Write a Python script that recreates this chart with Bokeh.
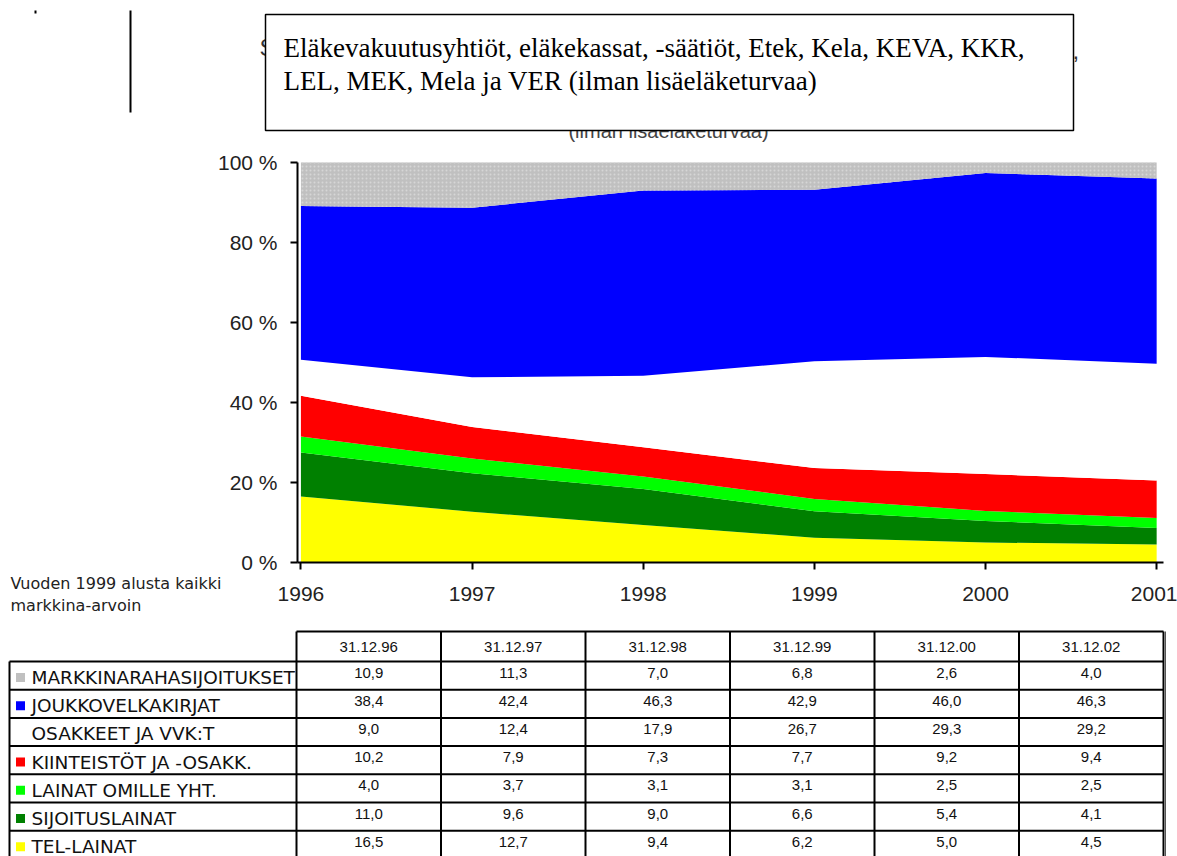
import numpy as np
from bokeh.plotting import figure
from bokeh.models import Range1d, FixedTicker, LinearAxis
from bokeh.core.properties import value
from bokeh.embed import file_html
from bokeh.resources import INLINE

# ---------------- data ----------------
dates = ["31.12.96", "31.12.97", "31.12.98", "31.12.99", "31.12.00", "31.12.02"]
years = [1996, 1997, 1998, 1999, 2000, 2001]
tel_lainat = [16.5, 12.7, 9.4, 6.2, 5.0, 4.5]
sijoituslainat = [11.0, 9.6, 9.0, 6.6, 5.4, 4.1]
lainat_omille = [4.0, 3.7, 3.1, 3.1, 2.5, 2.5]
kiinteistot = [10.2, 7.9, 7.3, 7.7, 9.2, 9.4]
osakkeet = [9.0, 12.4, 17.9, 26.7, 29.3, 29.2]
joukkovelka = [38.4, 42.4, 46.3, 42.9, 46.0, 46.3]
markkinaraha = [10.9, 11.3, 7.0, 6.8, 2.6, 4.0]

# stacking order bottom -> top
stack_series = [tel_lainat, sijoituslainat, lainat_omille, kiinteistot, osakkeet, joukkovelka, markkinaraha]
stack_colors = ["#ffff00", "#008000", "#00ff00", "#ff0000", "#ffffff", "#0000ff", "#c0c0c0"]

# table rows (top -> bottom)
row_labels = ["MARKKINARAHASIJOITUKSET", "JOUKKOVELKAKIRJAT", "OSAKKEET JA VVK:T",
              "KIINTEISTÖT JA -OSAKK.", "LAINAT OMILLE YHT.", "SIJOITUSLAINAT", "TEL-LAINAT"]
row_values = [markkinaraha, joukkovelka, osakkeet, kiinteistot, lainat_omille, sijoituslainat, tel_lainat]
row_colors = ["#c0c0c0", "#0000ff", "#ffffff", "#ff0000", "#00ff00", "#008000", "#ffff00"]

y_ticks = [0, 20, 40, 60, 80, 100]
y_tick_labels = ["0 %", "20 %", "40 %", "60 %", "80 %", "100 %"]

title_lines = ["Eläkevakuutusyhtiöt, eläkekassat, -säätiöt, Etek, Kela, KEVA, KKR,",
               "LEL, MEK, Mela ja VER (ilman lisäeläketurvaa)"]
note_lines = ["Vuoden 1999 alusta kaikki", "markkina-arvoin"]
hidden_sub = "(ilman lisäeläketurvaa)"

SANS = "Liberation Sans"
SERIF = "Liberation Serif"
DEJA = "DejaVu Sans"

# ---------------- canvas geometry (page pixels) ----------------
W, H = 1177, 856
PX_L, PX_R, PX_T, PX_B = 0, W, 0, H
PLOT_L, PLOT_R = 297.0, 1163.0     # x-axis extent
PLOT_T, PLOT_B = 162.0, 562.0      # 100 % and 0 % levels
X_LO, X_HI = 1995.98, 2001.04
Y_LO, Y_HI = 0.0, 100.0

sx = (PLOT_R - PLOT_L) / (X_HI - X_LO)
sy = (PLOT_B - PLOT_T) / (Y_HI - Y_LO)
x_start = X_LO - (PLOT_L - PX_L) / sx
x_end = X_HI + (PX_R - PLOT_R) / sx
y_start = Y_LO - (PX_B - PLOT_B) / sy
y_end = Y_HI + (PLOT_T - PX_T) / sy

p = figure(width=W, height=H, x_range=Range1d(x_start, x_end), y_range=Range1d(y_start, y_end),
           x_axis_type=None, y_axis_type=None, toolbar_location=None,
           output_backend="svg", min_border=0)
p.outline_line_color = None
p.background_fill_color = "white"
p.border_fill_color = "white"
p.extra_x_ranges = {"px": Range1d(PX_L, PX_R)}
p.extra_y_ranges = {"px": Range1d(PX_B, PX_T)}
PX = dict(x_range_name="px", y_range_name="px")

# ---------------- header ----------------
p.quad(left=[34], right=[36], top=[10], bottom=[13], fill_color="black", line_color=None, **PX)
p.segment(x0=[130], y0=[10], x1=[130], y1=[112], line_color="black", line_width=2, **PX)
# partially hidden original title behind the box
p.text(x=[259], y=[47], text=["S"], text_font=value(SANS), text_font_size="24px",
       text_baseline="middle", text_color="#333333", **PX)
p.text(x=[1072], y=[50], text=[","], text_font=value(SANS), text_font_size="24px",
       text_baseline="middle", text_color="#333333", **PX)
p.text(x=[668], y=[119], text=[hidden_sub], text_font=value(SANS), text_font_size="20px",
       text_align="center", text_baseline="top", text_color="#444444", **PX)
# box
p.quad(left=[265], right=[1073], top=[14], bottom=[130], fill_color="white",
       line_color="black", line_width=1.5, **PX)
p.text(x=[283, 283], y=[47, 80], text=title_lines, text_font=value(SERIF),
       text_font_size="27px", text_baseline="middle", text_color="black", **PX)

# ---------------- chart ----------------
x = np.array(years, dtype=float)
base = np.zeros(len(years))
for i, (ser, col) in enumerate(zip(stack_series, stack_colors)):
    top = base + np.array(ser)
    if i == len(stack_series) - 1:
        top = np.full(len(years), 100.0)
        p.varea(x=x, y1=base, y2=top, fill_color=col, hatch_pattern="dot",
                hatch_color="#d6d6d6", hatch_scale=4, hatch_weight=1)
    else:
        p.varea(x=x, y1=base, y2=top, fill_color=col)
    base = top

yax = LinearAxis(fixed_location=X_LO, bounds=(Y_LO, Y_HI), ticker=FixedTicker(ticks=y_ticks))
yax.major_label_overrides = {t: l for t, l in zip(y_ticks, y_tick_labels)}
xax = LinearAxis(fixed_location=Y_LO, bounds=(X_LO, X_HI), ticker=FixedTicker(ticks=years))
xax.major_label_overrides = {y: str(y) for y in years}
for ax in (xax, yax):
    ax.axis_line_color = "black"
    ax.axis_line_width = 2
    ax.major_tick_line_color = "black"
    ax.major_tick_line_width = 2
    ax.major_tick_out = 7
    ax.major_tick_in = 0
    ax.minor_tick_line_color = None
    ax.major_label_text_font = SANS
    ax.major_label_text_font_size = "21px"
    ax.major_label_text_color = "#222222"
xax.major_label_standoff = 17
yax.major_label_standoff = 13
p.add_layout(yax, "left")
p.add_layout(xax, "below")

p.text(x=[10, 10], y=[573, 595], text=note_lines, text_font=value(DEJA), text_font_size="16px",
       text_baseline="top", text_color="#222222", **PX)

# ---------------- table ----------------
col_left = 296.0
col_w = (1163.0 - 296.0) / len(dates)
col_edges = [col_left + col_w * k for k in range(len(dates) + 1)]
col_centers = [col_left + col_w * (k + 0.5) for k in range(len(dates))]
head_top, head_bot = 631.0, 661.0
row_h = 28.2
n_rows = len(row_labels)
row_tops = [head_bot + row_h * k for k in range(n_rows)]
table_bottom = head_bot + row_h * n_rows

p.segment(x0=[col_left], y0=[head_top], x1=[col_edges[-1]], y1=[head_top],
          line_color="black", line_width=2, **PX)
p.segment(x0=[9] * (n_rows + 1), y0=row_tops + [table_bottom], x1=[col_edges[-1]] * (n_rows + 1),
          y1=row_tops + [table_bottom], line_color="black", line_width=2, **PX)
p.segment(x0=col_edges, y0=[head_top] * len(col_edges), x1=col_edges, y1=[table_bottom] * len(col_edges),
          line_color="black", line_width=2, **PX)
p.segment(x0=[9], y0=[head_bot], x1=[9], y1=[table_bottom], line_color="black", line_width=2, **PX)
p.segment(x0=[col_edges[-1] + 2], y0=[head_top], x1=[col_edges[-1] + 2], y1=[table_bottom],
          line_color="#555555", line_width=1, **PX)

p.text(x=col_centers, y=[head_top + 15] * len(dates), text=dates, text_font=value(SANS),
       text_font_size="15px", text_align="center", text_baseline="middle", text_color="#111111", **PX)

vx, vy, vt = [], [], []
for r, vals in enumerate(row_values):
    for c, v in enumerate(vals):
        vx.append(col_centers[c])
        vy.append(row_tops[r] + 11)
        vt.append(f"{v:.1f}".replace(".", ","))
p.text(x=vx, y=vy, text=vt, text_font=value(SANS), text_font_size="15px",
       text_align="center", text_baseline="middle", text_color="#111111", **PX)

label_y = [rt + 16 for rt in row_tops]
p.scatter(x=[20] * n_rows, y=label_y, marker="square", size=9, fill_color=row_colors,
          line_color=None, **PX)
p.text(x=[31] * n_rows, y=label_y, text=row_labels, text_font=value(DEJA), text_font_size="18.5px",
       text_baseline="middle", text_color="#111111", **PX)

open("out.html", "w").write(file_html(p, INLINE))
